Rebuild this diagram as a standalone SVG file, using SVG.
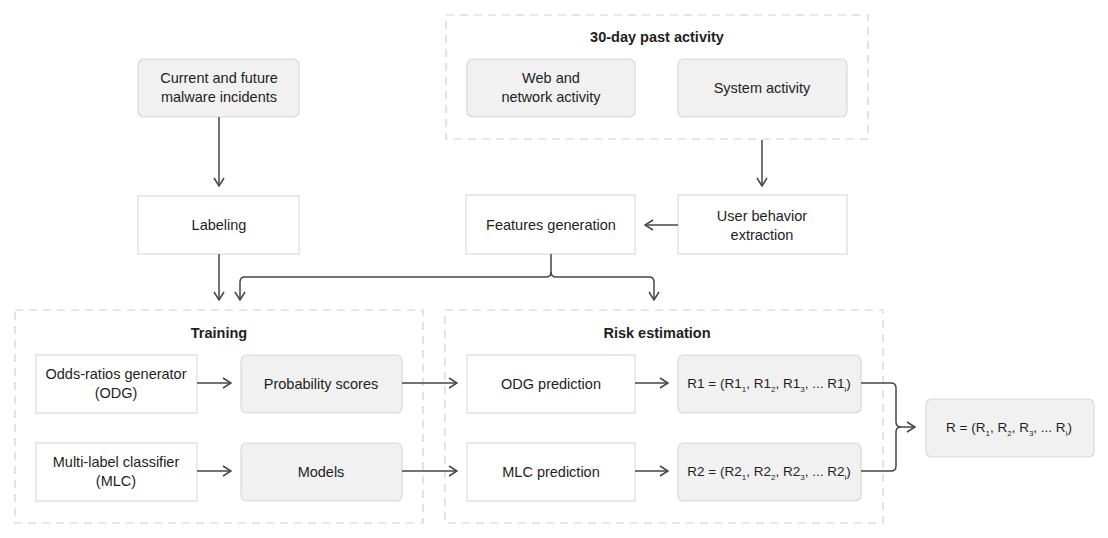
<svg xmlns="http://www.w3.org/2000/svg" width="1108" height="538" viewBox="0 0 1108 538">
<defs>
<style>
.grp{fill:none;stroke:#cfd0cf;stroke-width:1.2;stroke-dasharray:8 6}
.fill{fill:#f0f1f0;stroke:#d6d8d6;stroke-width:1.2}
.plain{fill:#ffffff;stroke:#dcdcdc;stroke-width:1.2}
text{font-family:"Liberation Sans",Arial,sans-serif;font-size:14.5px;fill:#1e1e1e;text-anchor:middle}
.t{font-weight:bold;font-size:14.5px}
.c{fill:none;stroke:#464646;stroke-width:1.5}
.f{font-size:13.5px}
.s{font-size:8px}
</style>
<marker id="ah" viewBox="0 0 10 12" refX="9" refY="6" markerWidth="10" markerHeight="12" markerUnits="userSpaceOnUse" orient="auto">
<path d="M1,1 L9,6 L1,11" fill="none" stroke="#464646" stroke-width="1.5"/>
</marker>
</defs>
<rect width="1108" height="538" fill="#ffffff"/>

<g id="group-past">
<rect class="grp" x="446" y="15" width="422" height="124"/>
<text class="t" x="657" y="42">30-day past activity</text>
</g>
<g id="group-training">
<rect class="grp" x="15" y="310" width="408" height="213"/>
<text class="t" x="219" y="338">Training</text>
</g>
<g id="group-risk">
<rect class="grp" x="445" y="310" width="438" height="213"/>
<text class="t" x="657" y="338">Risk estimation</text>
</g>

<g id="web">
<rect class="fill" x="467" y="59" width="168" height="58" rx="6"/>
<text x="551" y="83">Web and</text>
<text x="551" y="102">network activity</text>
</g>
<g id="system">
<rect class="fill" x="678" y="59" width="169" height="58" rx="6"/>
<text x="762" y="93">System activity</text>
</g>
<g id="incidents">
<rect class="fill" x="138" y="59" width="161" height="58" rx="6"/>
<text x="219" y="83">Current and future</text>
<text x="219" y="102">malware incidents</text>
</g>
<g id="labeling">
<rect class="plain" x="138" y="196" width="161" height="58"/>
<text x="219" y="230">Labeling</text>
</g>
<g id="features">
<rect class="plain" x="466" y="195" width="169" height="59"/>
<text x="551" y="230">Features generation</text>
</g>
<g id="behavior">
<rect class="plain" x="678" y="195" width="169" height="59"/>
<text x="762" y="221">User behavior</text>
<text x="762" y="240">extraction</text>
</g>
<g id="odg">
<rect class="plain" x="36" y="355" width="161" height="58"/>
<text x="116" y="379">Odds-ratios generator</text>
<text x="116" y="398">(ODG)</text>
</g>
<g id="prob">
<rect class="fill" x="241" y="355" width="161" height="58" rx="6"/>
<text x="321" y="389">Probability scores</text>
</g>
<g id="mlc">
<rect class="plain" x="36" y="443" width="161" height="58"/>
<text x="116" y="467">Multi-label classifier</text>
<text x="116" y="486">(MLC)</text>
</g>
<g id="models">
<rect class="fill" x="241" y="443" width="161" height="58" rx="6"/>
<text x="321" y="477">Models</text>
</g>
<g id="odgpred">
<rect class="plain" x="467" y="355" width="168" height="58"/>
<text x="551" y="389">ODG prediction</text>
</g>
<g id="mlcpred">
<rect class="plain" x="467" y="443" width="168" height="58"/>
<text x="551" y="477">MLC prediction</text>
</g>
<g id="r1">
<rect class="fill" x="678" y="355" width="183" height="58" rx="6"/>
<text class="f" x="769" y="388">R1 = (R1<tspan class="s" dy="4">1</tspan><tspan dy="-4">, R1</tspan><tspan class="s" dy="4">2</tspan><tspan dy="-4">, R1</tspan><tspan class="s" dy="4">3</tspan><tspan dy="-4">, ... R1</tspan><tspan class="s" dy="4">i</tspan><tspan dy="-4">)</tspan></text>
</g>
<g id="r2">
<rect class="fill" x="678" y="443" width="183" height="58" rx="6"/>
<text class="f" x="769" y="476">R2 = (R2<tspan class="s" dy="4">1</tspan><tspan dy="-4">, R2</tspan><tspan class="s" dy="4">2</tspan><tspan dy="-4">, R2</tspan><tspan class="s" dy="4">3</tspan><tspan dy="-4">, ... R2</tspan><tspan class="s" dy="4">i</tspan><tspan dy="-4">)</tspan></text>
</g>
<g id="r">
<rect class="fill" x="926" y="399" width="168" height="58" rx="6"/>
<text class="f" x="1009" y="432">R = (R<tspan class="s" dy="4">1</tspan><tspan dy="-4">, R</tspan><tspan class="s" dy="4">2</tspan><tspan dy="-4">, R</tspan><tspan class="s" dy="4">3</tspan><tspan dy="-4">, ... R</tspan><tspan class="s" dy="4">i</tspan><tspan dy="-4">)</tspan></text>
</g>

<g id="connectors">
<path class="c" d="M219,117 V186" marker-end="url(#ah)"/>
<path class="c" d="M762,140 V186" marker-end="url(#ah)"/>
<path class="c" d="M678,225 H645" marker-end="url(#ah)"/>
<path class="c" d="M219,254 V300" marker-end="url(#ah)"/>
<path class="c" d="M551,254 V272 Q551,277 546,277 H245 Q240,277 240,282 V300" marker-end="url(#ah)"/>
<path class="c" d="M551,272 Q551,277 556,277 H649 Q654,277 654,282 V300" marker-end="url(#ah)"/>
<path class="c" d="M197,383 H231" marker-end="url(#ah)"/>
<path class="c" d="M197,471 H231" marker-end="url(#ah)"/>
<path class="c" d="M402,383 H457" marker-end="url(#ah)"/>
<path class="c" d="M402,471 H457" marker-end="url(#ah)"/>
<path class="c" d="M635,383 H668" marker-end="url(#ah)"/>
<path class="c" d="M635,471 H668" marker-end="url(#ah)"/>
<path class="c" d="M861,383 H891 Q896,383 896,388 V422 Q896,427 901,427 H915" marker-end="url(#ah)"/>
<path class="c" d="M861,471 H891 Q896,471 896,466 V432 Q896,427 901,427"/>
</g>
</svg>
